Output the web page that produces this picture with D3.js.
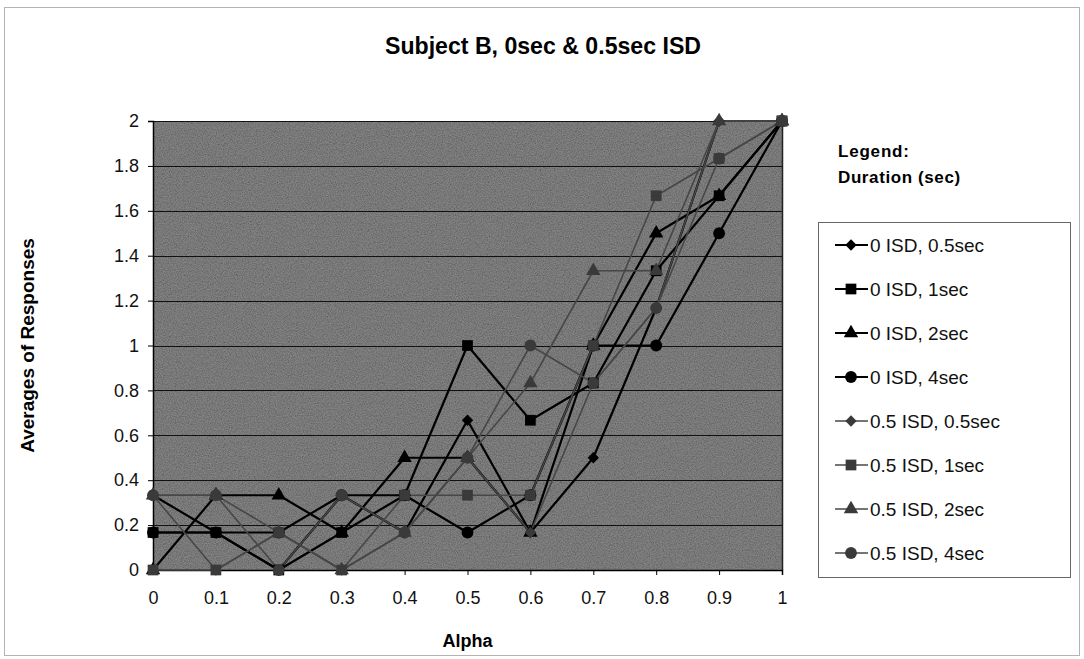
<!DOCTYPE html>
<html>
<head>
<meta charset="utf-8">
<script src="https://cdn.jsdelivr.net/npm/d3@7"></script>
<style>
  html, body { margin: 0; padding: 0; background: #fff; }
  svg { display: block; font-family: "Liberation Sans", Arial, sans-serif; }
</style>
</head>
<body>
<svg id="chart" width="1084" height="659"></svg>
<script>
// Alpha levels along the category axis
const alphas = ["0", "0.1", "0.2", "0.3", "0.4", "0.5", "0.6", "0.7", "0.8", "0.9", "1"];
const yTicks = [0, 0.2, 0.4, 0.6, 0.8, 1, 1.2, 1.4, 1.6, 1.8, 2];
const yTickLabels = ["0", "0.2", "0.4", "0.6", "0.8", "1", "1.2", "1.4", "1.6", "1.8", "2"];

// Average responses per alpha (6 trials → multiples of 1/6)
const isd0_05sec = [0.333, 0.167, 0, 0.333, 0.167, 0.667, 0.167, 0.5, 1.167, 2, 2];
const isd0_1sec  = [0.167, 0.167, 0, 0.167, 0.333, 1, 0.667, 0.833, 1.333, 1.667, 2];
const isd0_2sec  = [0, 0.333, 0.333, 0.167, 0.5, 0.5, 0.167, 1, 1.5, 1.667, 2];
const isd0_4sec  = [0.167, 0.167, 0.167, 0.333, 0.333, 0.167, 0.333, 1, 1, 1.5, 2];
const isd05_05sec = [0.333, 0, 0.167, 0, 0.167, 0.5, 0.167, 0.833, 1.167, 2, 2];
const isd05_1sec  = [0, 0, 0.167, 0, 0.333, 0.333, 0.333, 1, 1.667, 1.833, 2];
const isd05_2sec  = [0.333, 0.333, 0.167, 0, 0.167, 0.5, 0.833, 1.333, 1.333, 2, 2];
const isd05_4sec  = [0.333, 0.333, 0, 0.333, 0.167, 0.5, 1, 0.833, 1.167, 1.833, 2];

const seriesNames = ["0 ISD, 0.5sec", "0 ISD, 1sec", "0 ISD, 2sec", "0 ISD, 4sec",
                     "0.5 ISD, 0.5sec", "0.5 ISD, 1sec", "0.5 ISD, 2sec", "0.5 ISD, 4sec"];
const seriesValues = [isd0_05sec, isd0_1sec, isd0_2sec, isd0_4sec,
                      isd05_05sec, isd05_1sec, isd05_2sec, isd05_4sec];
const seriesShapes = ["diamond", "square", "triangle", "circle",
                      "diamond", "square", "triangle", "circle"];

const series = seriesNames.map((name, i) => ({
  name,
  values: seriesValues[i],
  shape: seriesShapes[i],
  dark: i < 4
}));

const svg = d3.select("#chart");
const W = 1084, H = 659;
const plot = { left: 153, right: 782, top: 121, bottom: 570 };

const x = d3.scalePoint().domain(alphas).range([plot.left, plot.right]);
const y = d3.scaleLinear().domain([0, 2]).range([plot.bottom, plot.top]);

// grain texture for the plot area fill
const defs = svg.append("defs");
const grain = defs.append("filter").attr("id", "grain")
  .attr("x", 0).attr("y", 0).attr("width", 1).attr("height", 1);
grain.append("feTurbulence").attr("type", "fractalNoise").attr("baseFrequency", 0.85)
  .attr("numOctaves", 2).attr("seed", 7).attr("result", "noise");
grain.append("feColorMatrix").attr("in", "noise").attr("type", "matrix")
  .attr("values", "0 0 0 0 0  0 0 0 0 0  0 0 0 0 0  0.9 0 0 0 -0.25").attr("result", "speck");
grain.append("feComposite").attr("in", "speck").attr("in2", "SourceGraphic")
  .attr("operator", "atop");

// chart frame
svg.append("rect").attr("x", 4.5).attr("y", 7.5).attr("width", W - 9).attr("height", H - 11)
  .attr("fill", "#fff").attr("stroke", "#b4b4b4").attr("stroke-width", 1);

// title
svg.append("text").attr("x", 543).attr("y", 54).attr("text-anchor", "middle")
  .attr("font-size", 23).attr("font-weight", "bold")
  .attr("font-family", "'Liberation Sans Narrow', 'Liberation Sans', Arial, sans-serif")
  .attr("textLength", 316).attr("lengthAdjust", "spacingAndGlyphs")
  .text("Subject B, 0sec & 0.5sec ISD");

// plot area background
svg.append("rect").attr("x", plot.left).attr("y", plot.top)
  .attr("width", plot.right - plot.left).attr("height", plot.bottom - plot.top)
  .attr("fill", "#858585").attr("filter", "url(#grain)");

// horizontal gridlines
svg.append("g").selectAll("line").data(yTicks.slice(1)).join("line")
  .attr("x1", plot.left).attr("x2", plot.right)
  .attr("y1", d => Math.round(y(d)) + 0.5).attr("y2", d => Math.round(y(d)) + 0.5)
  .attr("stroke", "#111").attr("stroke-width", 1);

// plot border (right side)
svg.append("line").attr("x1", plot.right + 0.5).attr("x2", plot.right + 0.5)
  .attr("y1", plot.top).attr("y2", plot.bottom).attr("stroke", "#222").attr("stroke-width", 1.5);

// y axis
const yAxis = d3.axisLeft(y).tickValues(yTicks).tickSize(5).tickPadding(9)
  .tickFormat((d, i) => yTickLabels[i]);
const gy = svg.append("g").attr("transform", `translate(${plot.left},0)`).call(yAxis);
gy.select(".domain").attr("stroke", "#000").attr("stroke-width", 1.5);
gy.selectAll(".tick line").attr("stroke", "#000");
gy.selectAll(".tick text").attr("font-size", 18).attr("fill", "#111")
  .attr("font-family", "'Liberation Sans', Arial, sans-serif");

// x axis
const xAxis = d3.axisBottom(x).tickSize(5).tickPadding(16);
const gx = svg.append("g").attr("transform", `translate(0,${plot.bottom})`).call(xAxis);
gx.select(".domain").attr("stroke", "#000").attr("stroke-width", 1.5);
gx.selectAll(".tick line").attr("stroke", "#000");
gx.selectAll(".tick text").attr("font-size", 18).attr("fill", "#111")
  .attr("font-family", "'Liberation Sans', Arial, sans-serif");

// axis titles
svg.append("text").attr("x", (plot.left + plot.right) / 2).attr("y", 647)
  .attr("text-anchor", "middle").attr("font-size", 18).attr("font-weight", "bold").text("Alpha");
svg.append("text").attr("transform", `translate(34,${(plot.top + plot.bottom) / 2}) rotate(-90)`)
  .attr("text-anchor", "middle").attr("font-size", 19).attr("font-weight", "bold")
  .text("Averages of Responses");

// marker shapes
function markerPath(shape) {
  switch (shape) {
    case "diamond": return d3.symbol(d3.symbolSquare, 64)();
    case "square": return d3.symbol(d3.symbolSquare, 115)();
    case "triangle": return d3.symbol(d3.symbolTriangle, 90)();
    default: return d3.symbol(d3.symbolCircle, 110)();
  }
}
const lineColor = s => s.dark ? "#000" : "#474747";
const markColor = s => s.dark ? "#000" : "#3a3a3a";

const line = d3.line().x((d, i) => x(alphas[i])).y(d => y(d));

// series lines
svg.append("g").selectAll("path").data(series).join("path")
  .attr("d", s => line(s.values))
  .attr("fill", "none")
  .attr("stroke", lineColor)
  .attr("stroke-width", s => s.dark ? 2.2 : 1.6)
  .attr("stroke-linejoin", "round");

// series markers
const mg = svg.append("g");
series.forEach(s => {
  mg.append("g").selectAll("path").data(s.values).join("path")
    .attr("d", markerPath(s.shape))
    .attr("transform", (d, i) => `translate(${x(alphas[i])},${y(d)})` + (s.shape === "diamond" ? " rotate(45)" : ""))
    .attr("fill", markColor(s));
});

// legend
const lg = svg.append("g");
lg.append("text").attr("x", 838).attr("y", 157).attr("font-size", 17).attr("font-weight", "bold")
  .attr("letter-spacing", 0.8).text("Legend:");
lg.append("text").attr("x", 838).attr("y", 183).attr("font-size", 17).attr("font-weight", "bold")
  .attr("letter-spacing", 0.6).text("Duration (sec)");
lg.append("rect").attr("x", 818.5).attr("y", 222.5).attr("width", 252).attr("height", 355)
  .attr("fill", "#fff").attr("stroke", "#666").attr("stroke-width", 1);

const ly = d3.scalePoint().domain(seriesNames).range([245, 553]);
const items = lg.selectAll("g.item").data(series).join("g").attr("class", "item")
  .attr("transform", s => `translate(0,${ly(s.name)})`);
items.append("line").attr("x1", 835).attr("x2", 868).attr("y1", 0).attr("y2", 0)
  .attr("stroke", lineColor).attr("stroke-width", s => s.dark ? 2 : 1.6);
items.append("path").attr("d", s => markerPath(s.shape))
  .attr("transform", s => `translate(851,0)` + (s.shape === "diamond" ? " rotate(45)" : ""))
  .attr("fill", markColor);
items.append("text").attr("x", 870).attr("y", 7).attr("font-size", 19).attr("fill", "#111")
  .text(s => s.name);
</script>
</body>
</html>
